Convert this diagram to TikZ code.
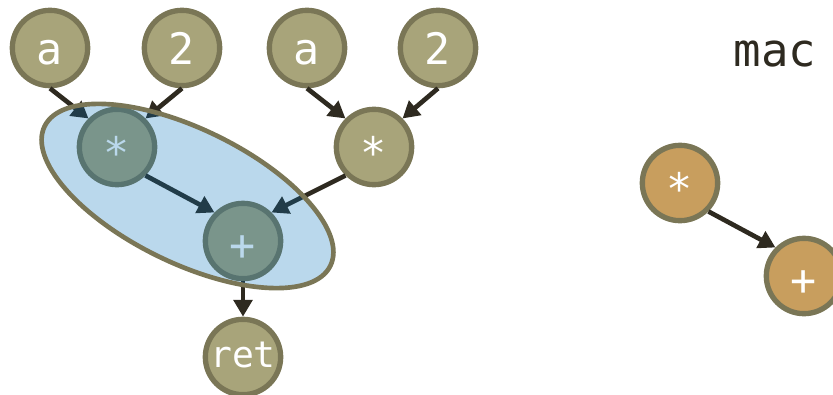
\documentclass[tikz,border=0pt]{standalone}
\usepackage{fontspec}
\usepackage{xcolor}
\newfontfamily\monofont{DejaVu Sans Mono}
\usetikzlibrary{arrows.meta}
\definecolor{valfill}{RGB}{168,164,122}
\definecolor{valline}{RGB}{122,118,86}
\definecolor{macfill}{RGB}{200,158,94}
\definecolor{edgedark}{RGB}{46,42,32}
\definecolor{grpblue}{RGB}{0,111,185}

\begin{document}
\begin{tikzpicture}[x = 0.03cm, y = -0.03cm,
        val/.style = {circle, fill = valfill, draw = valline, line width = 0.16cm,
                      minimum size = 2.26cm, inner sep = 0pt, text = white,
                      font = \monofont\fontsize{37}{40}\selectfont,
                      text height = 1cm, text depth = 0cm},
        star/.style = {text height = 1.3cm},
        plus/.style = {text height = 1.15cm},
        macop/.style = {val, fill = macfill},
        flow/.style = {draw = edgedark, line width = 0.14cm,
                       -{Triangle[length = 0.5cm, width = 0.55cm]}}]
        \useasboundingbox (0,0) rectangle (833,395);
        \clip (0,0) rectangle (833,395);

        \node[val] (a1) at (50,48) {a};
        \node[val] (two1) at (182,48) {2};
        \node[val] (a2) at (307,48) {a};
        \node[val] (two2) at (438,48) {2};
        \node[val, star] (mul1) at (117,147) {*};
        \node[val, star] (mul2) at (374,147) {*};
        \node[val, plus] (add) at (243,241) {+};
        \node[val, font = \monofont\fontsize{31}{34}\selectfont, text height = 0.6cm] (ret) at (243,357) {ret};

        \draw[flow] (a1.south) -- (mul1.north west);
        \draw[flow] (two1.south) -- (mul1.north east);
        \draw[flow] (a2.south) -- (mul2.north west);
        \draw[flow] (two2.south) -- (mul2.north east);
        \draw[flow] (mul1.south east) -- (add.north west);
        \draw[flow] (mul2.south west) -- (add.north east);
        \draw[flow] (add.south) -- (ret.north);

        % matched group
        \coordinate (grp) at (187.5,196);
        \fill[grpblue, fill opacity = 0.27, shift = {(grp)}, rotate = -26] (0,0) ellipse [x radius = 4.77cm, y radius = 2.01cm];
        \draw[valline, line width = 0.14cm, shift = {(grp)}, rotate = -26] (0,0) ellipse [x radius = 4.77cm, y radius = 2.01cm];

        \node[anchor = base, text = edgedark, font = \monofont\fontsize{39}{42}\selectfont] (mac) at (775,67) {mac};
        \node[macop, star] (mmul) at (680,183) {*};
        \node[macop, plus] (madd) at (804,276) {+};
        \draw[flow] (mmul.south east) -- (madd.north west);
    \end{tikzpicture}
\end{document}
